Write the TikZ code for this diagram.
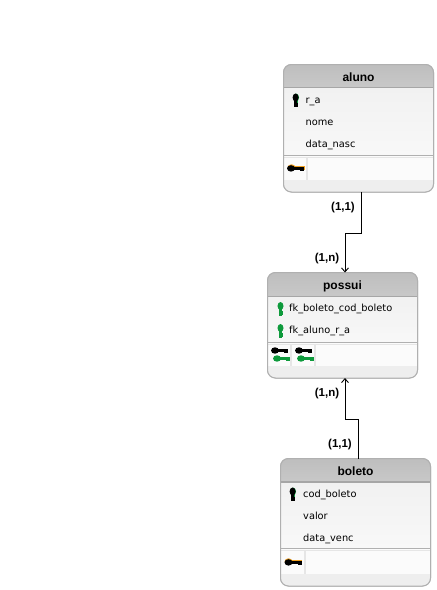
\documentclass[tikz,border=0pt]{standalone}
\usepackage{fontspec}
\setmainfont{DejaVu Sans}
\newfontfamily\titlefont{Liberation Sans}
\usetikzlibrary{arrows.meta}
\definecolor{edgegray}{HTML}{B0B0B0}
\definecolor{headtop}{HTML}{BEBEBE}
\definecolor{headbot}{HTML}{C8C8C8}
\definecolor{headline}{HTML}{A6A6A6}
\definecolor{bodytop}{HTML}{F1F1F1}
\definecolor{bodybot}{HTML}{F8F8F8}
\definecolor{footgray}{HTML}{EEEEEE}
\definecolor{cellgray}{HTML}{FBFBFB}
\definecolor{bargray}{HTML}{E6E6E6}
\definecolor{keygreen}{HTML}{0E9A3C}
\definecolor{keyorange}{HTML}{F0A020}
\tikzset{
  tablebox/.style={draw=edgegray,line width=1pt,rounded corners=8pt,anchor=north west,inner sep=0pt,outer sep=0pt},
  tabletitle/.style={font=\titlefont\bfseries\fontsize{12}{13}\selectfont,text=black,inner sep=0pt,anchor=base},
  field/.style={font=\fontsize{9.8}{11}\selectfont,text=black,anchor=base west,inner sep=0pt},
  card/.style={font=\titlefont\bfseries\fontsize{11.5}{12}\selectfont,text=black,inner sep=0pt,anchor=base},
  link/.style={draw=black,line width=0.9pt,-{Straight Barb[length=4pt,width=7pt]}},
  hkey/.pic={
    \fill[#1] (0,0) ellipse (4pt and 3.2pt);
    \fill[#1] (2,-1.5) rectangle (13,1.5);
    \fill[#1] (9,1) rectangle (13,2.2);
  },
  hkey/.default=black,
  vkey/.pic={
    \fill[#1] (0,0) ellipse (3pt and 4pt);
    \fill[#1] (-1.5,1) rectangle (1.5,9.5);
    \fill[#1] (1,5) rectangle (2.4,9);
  },
  vkey/.default=black
}
\newcommand{\drawtable}[8]{%
  % name, x1, y1, x2, y2, head bottom, separator, cell bottom
  \node[tablebox,minimum width=#4pt-#2pt,minimum height=#5pt-#3pt] (#1) at (#2,#3) {};
  \begin{scope}
    \clip[rounded corners=8pt] (#2,#3) rectangle (#4,#5);
    \shade[top color=bodytop,bottom color=bodybot] (#2,#6) rectangle (#4,#7);
    \shade[top color=headtop,bottom color=headbot] (#2,#3) rectangle (#4,#6);
    \fill[footgray] (#2,#8) rectangle (#4,#5);
    \fill[cellgray] (#2,#7) rectangle (#4,#8);
    \draw[headline,line width=1.2pt] (#2,#6) -- (#4,#6);
    \draw[edgegray,line width=1pt] (#2,#7) -- (#4,#7);
    \draw[bargray,line width=0.8pt] (#2,#7+2) -- (#4,#7+2);
  \end{scope}
  \draw[edgegray,line width=1pt,rounded corners=8pt] (#2,#3) rectangle (#4,#5);
}
\begin{document}
\begin{tikzpicture}[x=1pt,y=-1pt]
\useasboundingbox (0,0) rectangle (437,590);
\fill[white] (0,0) rectangle (437,590);

% aluno
\drawtable{aluno}{283.5}{64.5}{433.5}{192}{87.5}{155}{180}
\fill[bargray] (306,157) rectangle (308,180);
\node[tabletitle] (alunoT) at (358.5,81) {aluno};
\pic at (296,97.5) {vkey=keygreen};
\pic at (295.6,97.5) {vkey=black};
\node[field] (alunoA) at (305.5,103.5) {r\_a};
\node[field] (alunoB) at (305.5,125.5) {nome};
\node[field] (alunoC) at (305.5,147.5) {data\_nasc};
\pic at (291.5,167.5) {hkey=keyorange};
\pic at (291,168.4) {hkey=black};

% possui
\drawtable{possui}{267.5}{272.5}{417.5}{378}{296.5}{342.5}{366}
\fill[bargray] (290,345) rectangle (292,366);
\fill[bargray] (314,345) rectangle (316,366);
\node[tabletitle] (possuiT) at (342.5,289) {possui};
\pic at (280.5,306) {vkey=keygreen};
\pic at (280.5,328) {vkey=keygreen};
\node[field] (possuiA) at (289,311.5) {fk\_boleto\_cod\_boleto};
\node[field] (possuiB) at (289,333.5) {fk\_aluno\_r\_a};
\pic at (275,350.5) {hkey=black};
\pic at (277,358.5) {hkey=keygreen};
\pic at (299,350.5) {hkey=black};
\pic at (301,358.5) {hkey=keygreen};

% boleto
\drawtable{boleto}{280.5}{458.5}{430.5}{586}{482}{548.5}{574}
\fill[bargray] (303.5,551) rectangle (305.5,574);
\node[tabletitle] (boletoT) at (355.5,475) {boleto};
\pic at (293,491.5) {vkey=keygreen};
\pic at (292.6,491.5) {vkey=black};
\node[field] (boletoA) at (303,497.5) {cod\_boleto};
\node[field] (boletoB) at (303,519.5) {valor};
\node[field] (boletoC) at (303,541.5) {data\_venc};
\pic at (288.5,561.5) {hkey=keyorange};
\pic at (288.5,562.4) {hkey=black};

% connectors
\coordinate (aluTurn) at (361,233);
\coordinate (bolTurn) at (358,419);
\coordinate (posTop) at ([xshift=2.5pt]possui.north);
\coordinate (posBot) at ([xshift=2.5pt]possui.south);
\draw[link] (aluTurn |- aluno.south) -- (aluTurn) -- (aluTurn -| posTop) -- (posTop);
\draw[link] (bolTurn |- boleto.north) -- (bolTurn) -- (bolTurn -| posBot) -- (posBot);

% cardinalities
\node[card] (c1) at (343,210) {(1,1)};
\node[card] (c2) at (327,261.5) {(1,n)};
\node[card] (c3) at (327,396.5) {(1,n)};
\node[card] (c4) at (340,447.5) {(1,1)};
\end{tikzpicture}
\end{document}
